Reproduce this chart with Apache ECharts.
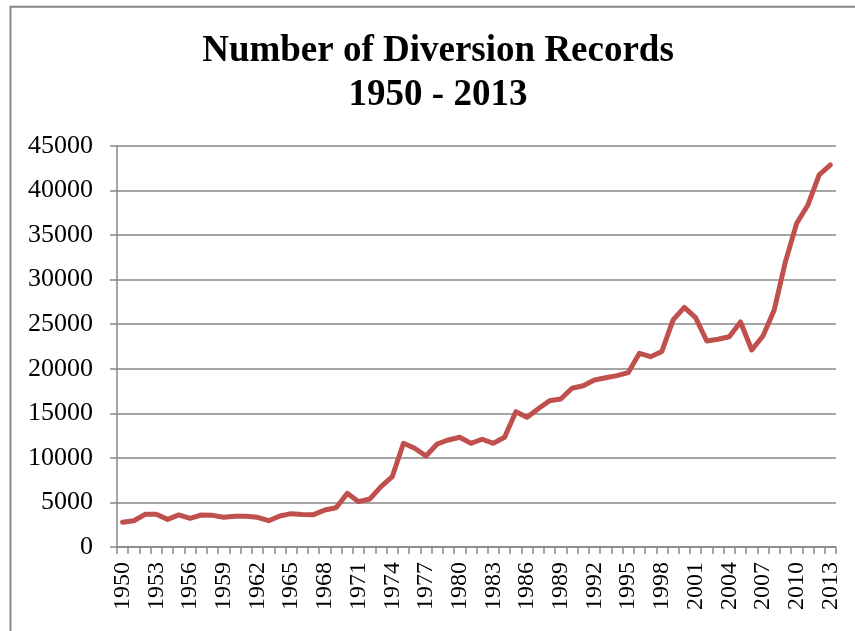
<!DOCTYPE html>
<html>
<head>
<meta charset="utf-8">
<script src="https://cdn.jsdelivr.net/npm/echarts@6/dist/echarts.min.js"></script>
<style>
  html, body { margin: 0; padding: 0; background: #ffffff; }
  #chart { width: 855px; height: 631px; }
</style>
</head>
<body>
<div id="chart"></div>
<script>
// Diversion records per year, 1950 - 2013
const years = [
  '1950','1951','1952','1953','1954','1955','1956','1957','1958','1959',
  '1960','1961','1962','1963','1964','1965','1966','1967','1968','1969',
  '1970','1971','1972','1973','1974','1975','1976','1977','1978','1979',
  '1980','1981','1982','1983','1984','1985','1986','1987','1988','1989',
  '1990','1991','1992','1993','1994','1995','1996','1997','1998','1999',
  '2000','2001','2002','2003','2004','2005','2006','2007','2008','2009',
  '2010','2011','2012','2013'
];
const records = [
  2770, 2950, 3670, 3670, 3100, 3600, 3220, 3590, 3550, 3330,
  3440, 3440, 3330, 2950, 3480, 3740, 3660, 3630, 4150, 4410,
  6020, 5090, 5390, 6770, 7890, 11640, 11080, 10210, 11560, 12010,
  12310, 11640, 12090, 11640, 12310, 15190, 14560, 15520, 16420, 16610,
  17810, 18100, 18740, 19000, 19230, 19560, 21740, 21360, 21950, 25480,
  26900, 25740, 23120, 23310, 23600, 25250, 22110, 23680, 26600, 32020,
  36330, 38380, 41750, 42870
];
const yTicks = { min: 0, max: 45000, step: 5000 };

const serif = '"Liberation Serif", "Times New Roman", serif';
const gray = '#878787';

const chart = echarts.init(document.getElementById('chart'), null, { renderer: 'canvas' });
chart.setOption({
  animation: false,
  backgroundColor: '#ffffff',
  title: {
    text: 'Number of Diversion Records\n1950 - 2013',
    left: 433,
    top: 24,
    textAlign: 'center',
    textStyle: {
      fontFamily: serif,
      fontWeight: 'bold',
      fontSize: 37,
      lineHeight: 44,
      color: '#000000'
    }
  },
  graphic: [{
    type: 'rect',
    shape: { x: 10.5, y: 6.8, width: 900, height: 700 },
    style: { fill: 'none', stroke: gray, lineWidth: 2 },
    silent: true
  }],
  grid: { left: 117, right: 19, top: 146, bottom: 84, containLabel: false },
  xAxis: {
    type: 'category',
    data: years,
    boundaryGap: true,
    axisLine: { show: true, lineStyle: { color: gray, width: 1.5 } },
    axisTick: { show: true, interval: 0, length: 7, lineStyle: { color: gray, width: 1.5 } },
    axisLabel: {
      interval: 2,
      rotate: 90,
      margin: 15,
      fontFamily: serif,
      fontSize: 24,
      color: '#000000'
    },
    splitLine: { show: false }
  },
  yAxis: {
    type: 'value',
    min: yTicks.min,
    max: yTicks.max,
    interval: yTicks.step,
    axisLine: { show: true, lineStyle: { color: gray, width: 1.5 } },
    axisTick: { show: true, length: 7, lineStyle: { color: gray, width: 1.5 } },
    axisLabel: {
      margin: 24,
      fontFamily: serif,
      fontSize: 26,
      color: '#000000',
      formatter: (v) => String(v)
    },
    splitLine: { show: true, lineStyle: { color: gray, width: 1.5 } }
  },
  series: [{
    type: 'line',
    data: records,
    showSymbol: false,
    symbol: 'none',
    lineStyle: { color: '#C0504D', width: 5, join: 'round', cap: 'round' },
    itemStyle: { color: '#C0504D' }
  }]
});
</script>
</body>
</html>
